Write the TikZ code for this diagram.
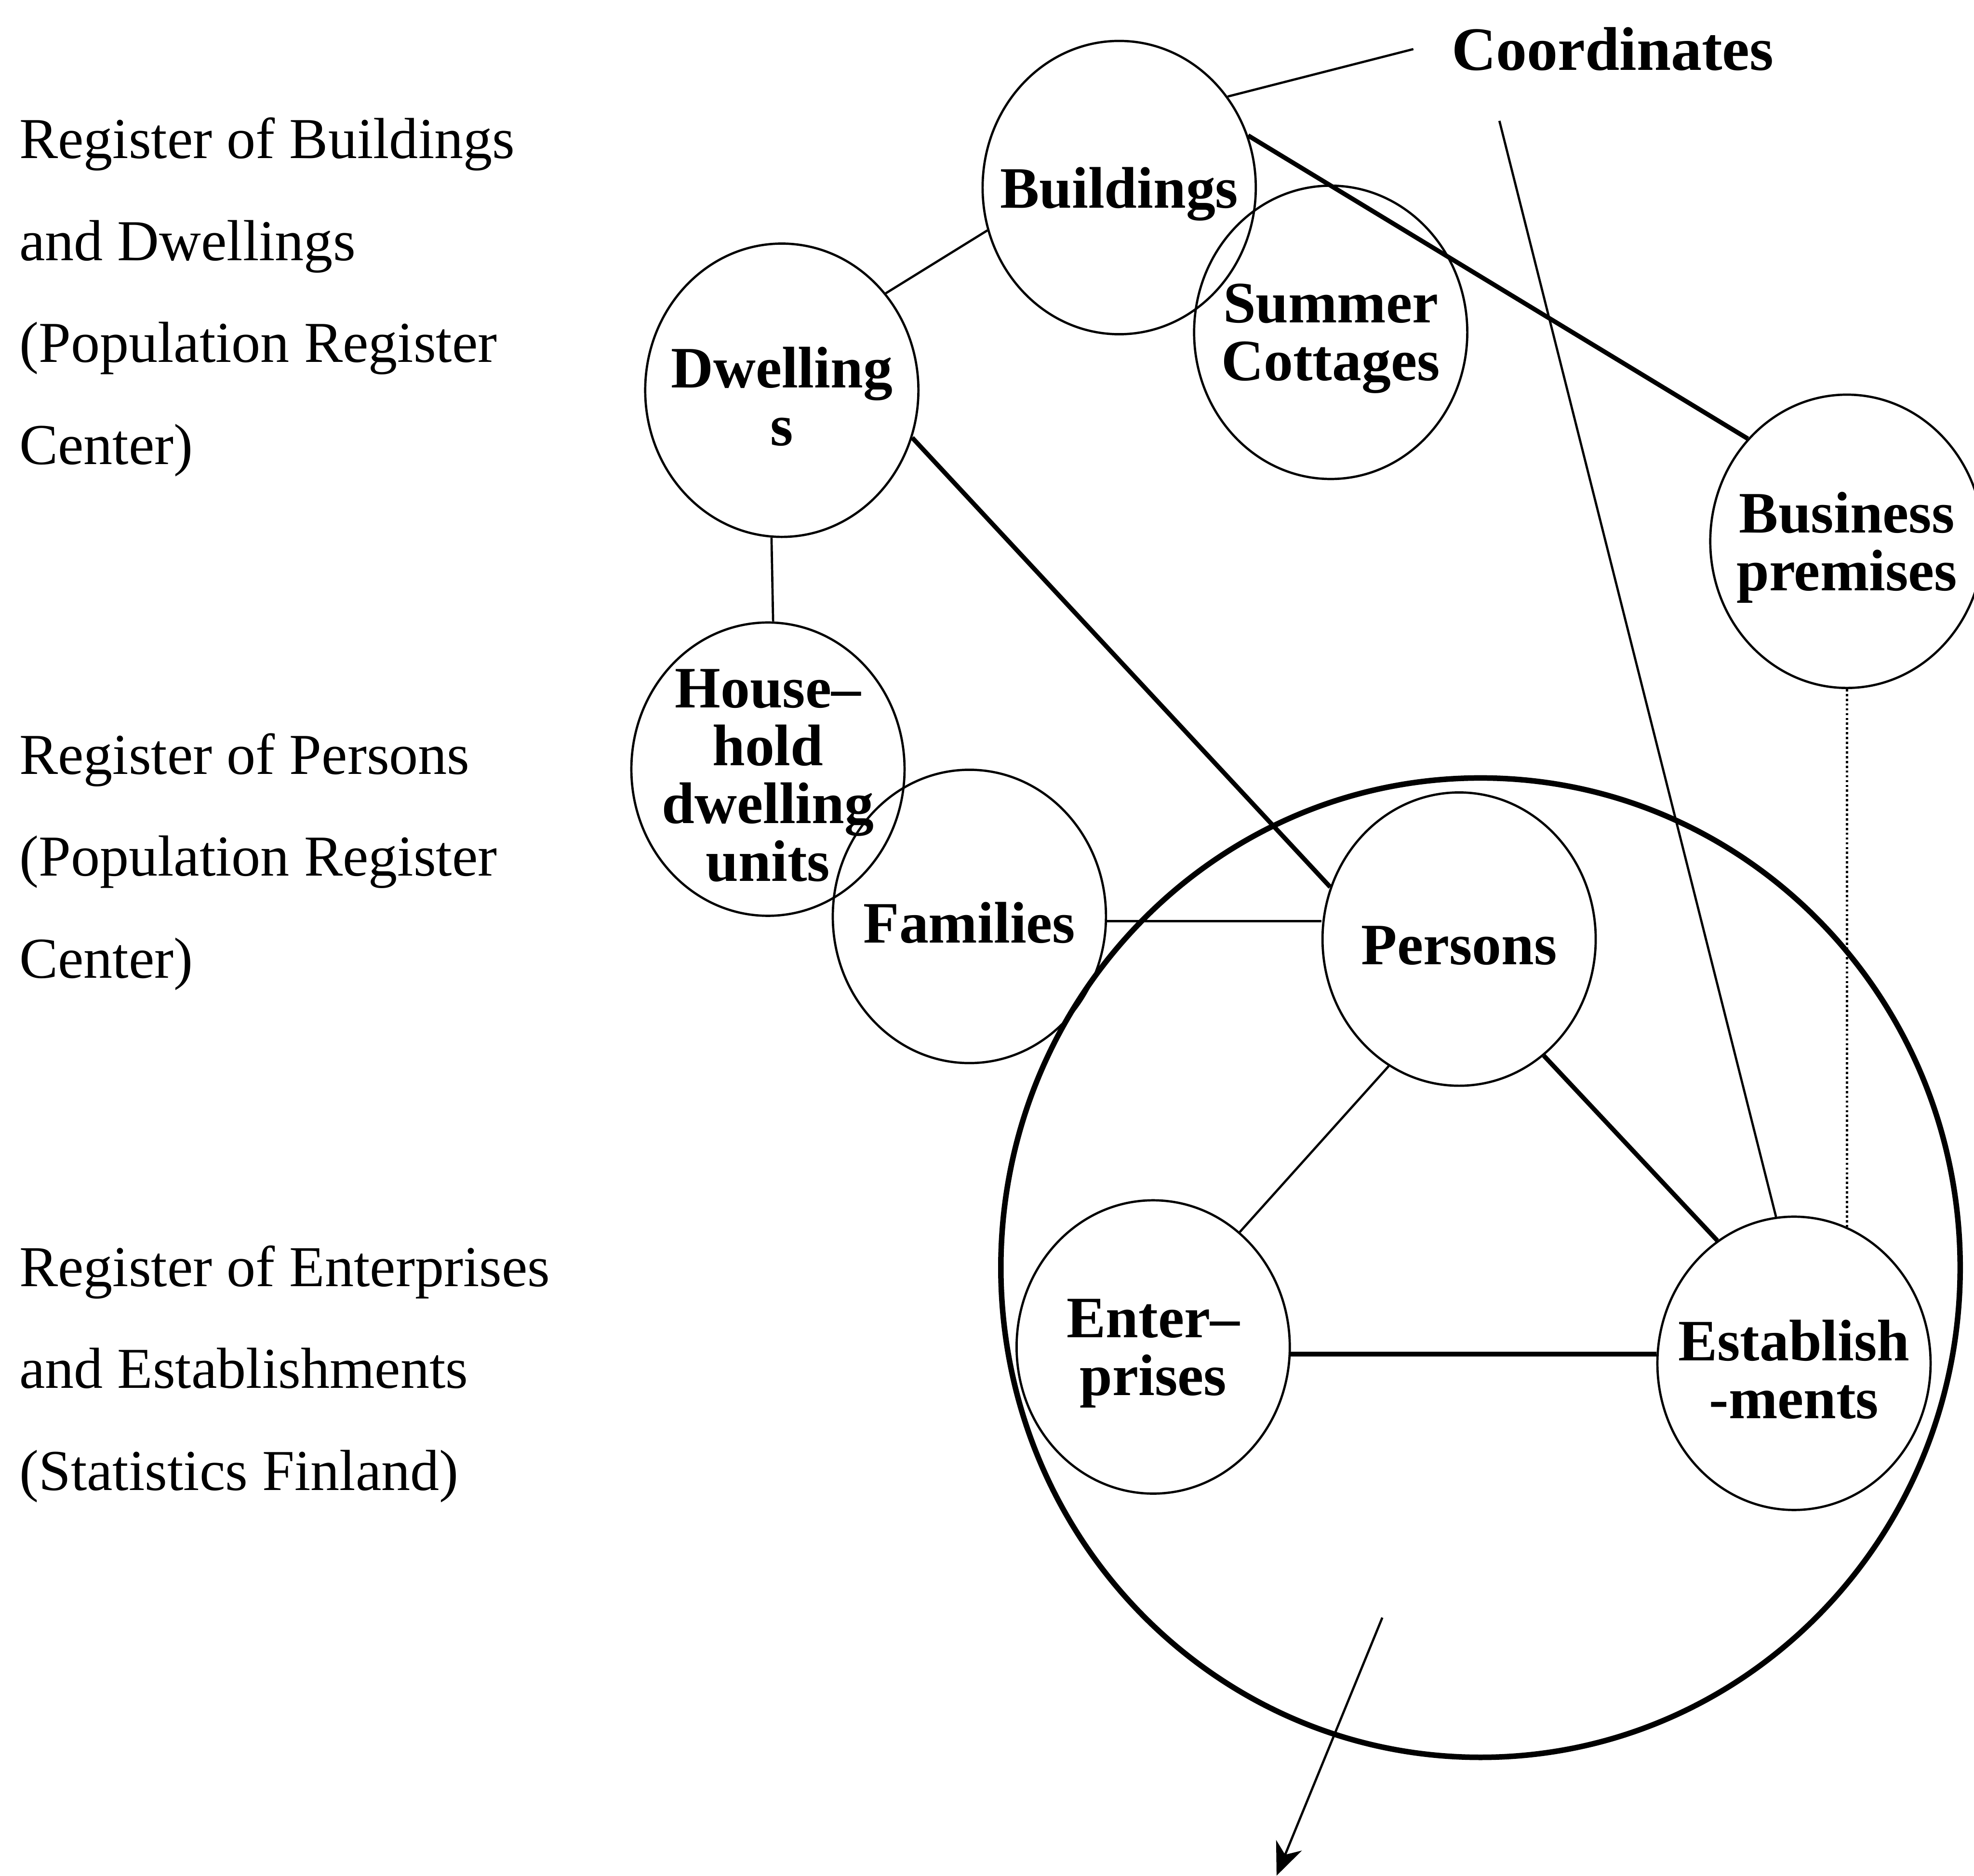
\documentclass[tikz,border=0pt]{standalone}
\usepackage{fontspec}
\setmainfont{Liberation Serif}
\usetikzlibrary{shapes.geometric,arrows.meta}
\begin{document}
\begin{tikzpicture}[x=0.5pt,y=-0.5pt,
  unit/.style={ellipse, draw, line width=0.9pt, minimum width=108.5pt,
    minimum height=116.5pt, inner sep=0pt},
  lbl/.style={align=center, inner sep=0pt, yshift=-2.5pt,
    font=\bfseries\fontsize{23.3}{23}\selectfont},
  regtext/.style={align=left, anchor=north west, inner sep=0pt,
    font=\fontsize{23}{40.5}\selectfont},
  link/.style={line width=0.9pt},
  boldlink/.style={line width=1.8pt},
]
\fill[white] (0,0) rectangle (1568,1490);
\useasboundingbox (0,0) rectangle (1568,1490);

% register descriptions on the left
\node[regtext] (regbd) at (15,93)
  {Register of Buildings\\and Dwellings\\(Population Register\\Center)};
\node[regtext] (regp) at (15,582)
  {Register of Persons\\(Population Register\\Center)};
\node[regtext] (rege) at (15,989)
  {Register of Enterprises\\and Establishments\\(Statistics Finland)};

% the statistical units
\node[unit, label={[lbl]center:Buildings}] (bld) at (889,149) {};
\node[unit, label={[lbl]center:{Summer\\Cottages}}] (sum) at (1057,264) {};
\node[unit, label={[lbl]center:{Dwelling\\s}}] (dwl) at (621,310) {};
\node[unit, label={[lbl]center:{House--\\hold\\dwelling\\units}}] (hh) at (610,611) {};
\node[unit, label={[lbl]center:Families}] (fam) at (770,728) {};
\node[unit, label={[lbl]center:Persons}] (per) at (1159,746) {};
\node[unit, label={[lbl]center:{Business\\premises}}] (bus) at (1467,430) {};
\node[unit, label={[lbl]center:{Enter--\\prises}}] (ent) at (916,1070) {};
\node[unit, label={[lbl]center:{Establish\\-ments}}] (est) at (1425,1083) {};

% the enclosing circle
\node[ellipse, draw, line width=2.2pt, minimum width=381pt,
  minimum height=389pt, inner sep=0pt] (reg) at (1176,1007) {};

% coordinates
\node[font=\bfseries\fontsize{24.5}{24.5}\selectfont, inner xsep=15pt,
  inner ysep=0pt] (crd) at (1281,39) {Coordinates};
\coordinate (crdfoot) at (1191,96);
\coordinate (outA) at (1098,1285);
\coordinate (outB) at (1014,1490);

% links
\draw[link] (bld.40) -- (crd.west);
\draw[boldlink] (bld.22) -- (bus.134);
\draw[link] (crdfoot) -- (est.97);
\draw[link] (bld.198) -- (dwl.43);
\draw[boldlink] (dwl.-20) -- (per.158);
\draw[link] (dwl.266) -- (hh.88);
\draw[link] (fam.-2) -- (fam.-2 -| per.west);
\draw[link] (per.241) -- (ent.53);
\draw[boldlink] (per.-54) -- (est.122);
\draw[boldlink] (ent.-3) -- (ent.-3 -| est.west);
\draw[line width=0.9pt, densely dotted] (bus.south) -- (bus.south |- est.67);
\draw[link, -{Stealth[length=13pt, width=11pt, inset=4pt]}] (outA) -- (outB);
\end{tikzpicture}
\end{document}
